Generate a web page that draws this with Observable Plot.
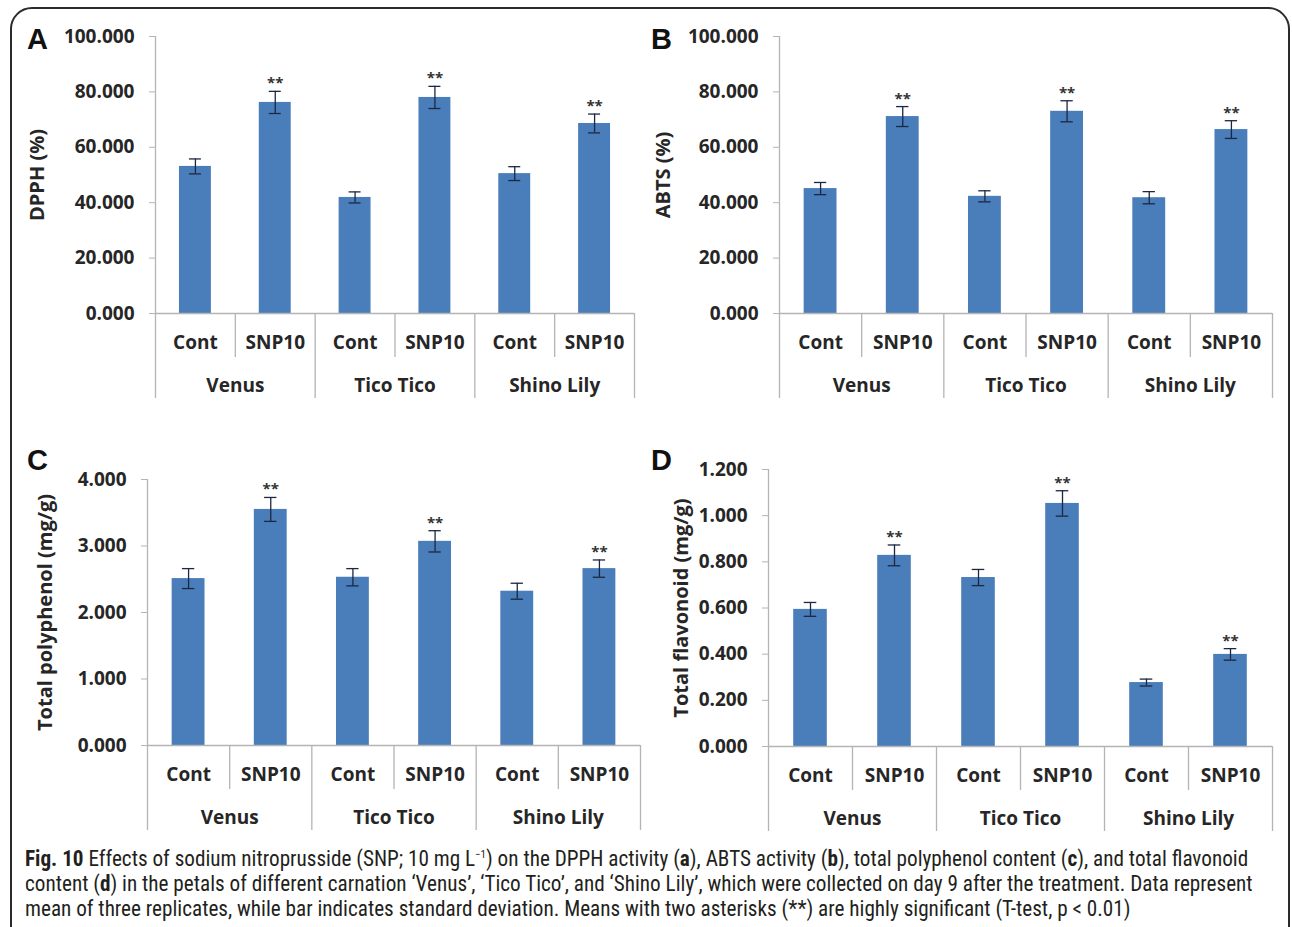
<!DOCTYPE html>
<html><head><meta charset="utf-8">
<script src="https://cdn.jsdelivr.net/npm/d3@7"></script>
<script src="https://cdn.jsdelivr.net/npm/@observablehq/plot@0.6"></script>
<style>
html,body{margin:0;padding:0;background:#fff;width:1292px;height:927px;overflow:hidden;}
#fig{position:relative;width:1292px;height:927px;overflow:hidden;}
.frame{position:absolute;left:10px;top:7px;width:1280px;height:980px;border:2px solid #2b2b2b;border-radius:22px;box-sizing:border-box;}
.panel{position:absolute;}
.panel svg text{font-weight:bold;}
.letter{position:absolute;font-family:"Liberation Sans",Arial,sans-serif;font-weight:bold;font-size:29px;color:#111;line-height:1;}
.caption{position:absolute;left:25px;top:846px;font-family:"Liberation Sans Narrow","Roboto Condensed","DejaVu Sans Condensed",sans-serif;color:#231f20;font-size:17px;line-height:25px;white-space:nowrap;}
.caption div{height:25px;}
</style></head>
<body>
<div id="fig">
  <div class="frame"></div>
  <div class="letter" style="left:27px;top:25px">A</div>
  <div class="letter" style="left:651px;top:25px">B</div>
  <div class="letter" style="left:27px;top:446px">C</div>
  <div class="letter" style="left:651px;top:446px">D</div>
  <div class="caption" id="cap">
    <div><b>Fig. 10</b> Effects of sodium nitroprusside (SNP; 10 mg L<sup style="font-size:11px;line-height:0">−1</sup>) on the DPPH activity (<b>a</b>), ABTS activity (<b>b</b>), total polyphenol content (<b>c</b>), and total flavonoid</div>
    <div>content (<b>d</b>) in the petals of different carnation ‘Venus’, ‘Tico Tico’, and ‘Shino Lily’, which were collected on day 9 after the treatment. Data represent</div>
    <div>mean of three replicates, while bar indicates standard deviation. Means with two asterisks (**) are highly significant (T-test, p &lt; 0.01)</div>
  </div>
</div>
<script>
// ---- data ----
const groups = ["Venus", "Tico Tico", "Shino Lily"];
const treatments = ["Cont", "SNP10", "Cont", "SNP10", "Cont", "SNP10"];
const significant = [false, true, false, true, false, true];

const dpphMean = [53.1, 76.2, 41.9, 78.0, 50.5, 68.6];
const dpphSD   = [2.7, 4.0, 2.0, 4.0, 2.5, 3.4];
const abtsMean = [45.1, 71.1, 42.3, 73.0, 41.8, 66.4];
const abtsSD   = [2.2, 3.6, 2.0, 3.8, 2.2, 3.2];
const polyMean = [2.51, 3.55, 2.53, 3.07, 2.32, 2.66];
const polySD   = [0.15, 0.18, 0.13, 0.16, 0.12, 0.13];
const flavMean = [0.594, 0.828, 0.732, 1.053, 0.277, 0.399];
const flavSD   = [0.030, 0.045, 0.035, 0.055, 0.015, 0.025];

const ticksAB = [0, 20, 40, 60, 80, 100];
const ticksC  = [0, 1, 2, 3, 4];
const ticksD  = [0, 0.2, 0.4, 0.6, 0.8, 1.0, 1.2];

const labels = ["DPPH (%)", "ABTS (%)", "Total polyphenol (mg/g)", "Total flavonoid (mg/g)"];

// ---- drawing ----
const FONT = '"Open Sans", "Noto Sans", sans-serif';
const BAR = "#4a7ebb";
const AXIS = "#b4b4b4";
const ERR = "#1c2740";

function panel(cfg) {
  const {left, top, width, height, axisX, rightX, yTopPx, y0Px, ticks, label, labelOffset, means, sds} = cfg;
  const yMax = ticks[ticks.length - 1];
  const mT = yTopPx - top, mB = top + height - y0Px;
  const innerH = height - mT - mB;
  const px = p => -p * yMax / innerH; // pixel length below baseline in data units
  const rows = means.map((m, i) => ({i, mean: m, sd: sds[i], treat: treatments[i], sig: significant[i]}));
  const seps = d3.range(7).map(k => ({x: k, long: k % 2 === 0}));
  const caps = rows.flatMap(r => [{i: r.i, y: r.mean - r.sd}, {i: r.i, y: r.mean + r.sd}]);
  const fmt = d3.format(".3f");
  const svg = Plot.plot({
    width, height,
    marginLeft: axisX - left, marginRight: left + width - rightX,
    marginTop: mT, marginBottom: mB,
    x: {domain: [0, 6], axis: null},
    y: {domain: [0, yMax], axis: null},
    style: {fontFamily: FONT, color: "#262626", background: "transparent", overflow: "visible"},
    marks: [
      Plot.axisY({ticks, tickFormat: fmt, tickSize: 6, tickPadding: 15, stroke: AXIS, fontSize: 19, label: null}),
      Plot.text([label], {frameAnchor: "left", rotate: -90, dx: -labelOffset, lineAnchor: "top",
        textAnchor: "middle", fontSize: 20, text: d => d}),
      Plot.rectY(rows, {x1: d => d.i + 0.3, x2: d => d.i + 0.7, y1: 0, y2: "mean", fill: BAR}),
      Plot.ruleY([0], {x1: 0, x2: 6, stroke: AXIS, strokeWidth: 1.3}),
      Plot.ruleX(seps, {x: "x", y1: d => d.x === 0 ? yMax : 0, y2: d => px(d.long ? 85 : 44), stroke: AXIS, strokeWidth: 1.3}),
      Plot.ruleX(rows, {x: d => d.i + 0.5, y1: d => d.mean - d.sd, y2: d => d.mean + d.sd, stroke: ERR, strokeWidth: 1.3}),
      Plot.ruleY(caps, {x1: d => d.i + 0.5 - 0.075, x2: d => d.i + 0.5 + 0.075, y: "y", stroke: ERR, strokeWidth: 1.3}),
      Plot.text(rows.filter(d => d.sig), {x: d => d.i + 0.5, y: d => d.mean + d.sd, text: () => "**",
        lineAnchor: "bottom", dy: -3, fontSize: 15, fill: "#333"}),
      Plot.text(rows, {x: d => d.i + 0.5, y: 0, text: "treat", dy: 29.5, fontSize: 19}),
      Plot.text(groups, {x: (d, g) => 2 * g + 1, y: 0, text: d => d, dy: 72.5, fontSize: 19})
    ]
  });
  const div = document.createElement("div");
  div.className = "panel";
  div.style.left = left + "px";
  div.style.top = top + "px";
  div.appendChild(svg);
  document.getElementById("fig").appendChild(div);
}

panel({left: 0, top: 20, width: 645, height: 390, axisX: 155, rightX: 634, yTopPx: 36, y0Px: 313,
  ticks: ticksAB, label: labels[0], labelOffset: 126, means: dpphMean, sds: dpphSD});
panel({left: 645, top: 20, width: 647, height: 390, axisX: 779, rightX: 1272, yTopPx: 36, y0Px: 313,
  ticks: ticksAB, label: labels[1], labelOffset: 124, means: abtsMean, sds: abtsSD});
panel({left: 0, top: 455, width: 645, height: 390, axisX: 147, rightX: 640, yTopPx: 479, y0Px: 745,
  ticks: ticksC, label: labels[2], labelOffset: 110, means: polyMean, sds: polySD});
panel({left: 645, top: 455, width: 647, height: 390, axisX: 768, rightX: 1272, yTopPx: 469, y0Px: 746,
  ticks: ticksD, label: labels[3], labelOffset: 95, means: flavMean, sds: flavSD});

// fit caption's first line to the reference width
const cap = document.getElementById("cap");
const first = cap.firstElementChild;
const w = first.scrollWidth;
const target = 1228;
const fs = 17 * target / w;
cap.style.fontSize = fs.toFixed(2) + "px";
</script>
</body></html>
